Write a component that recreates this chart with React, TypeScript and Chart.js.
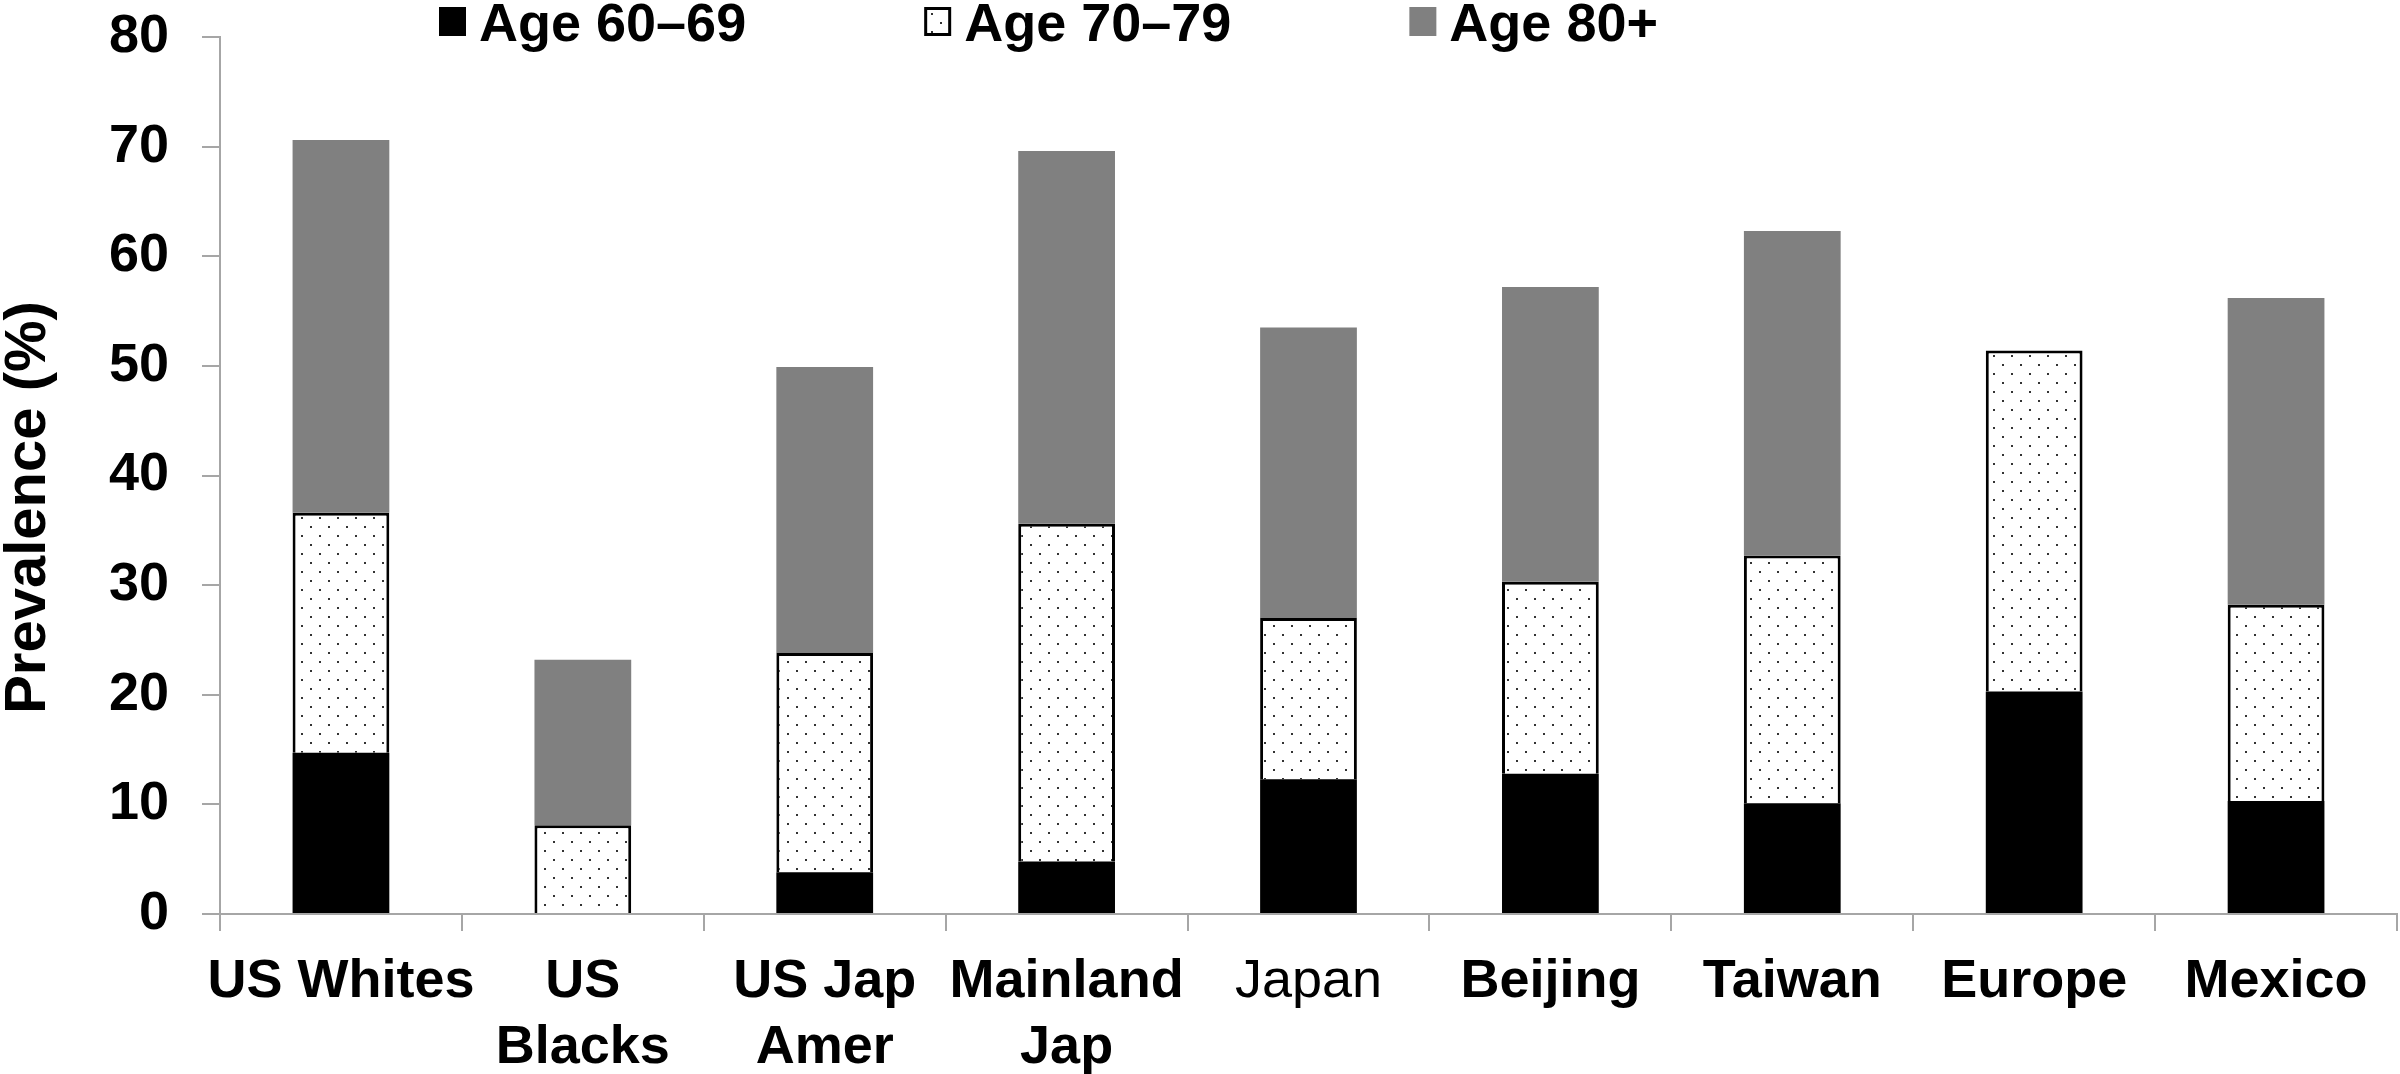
import React, { useEffect, useRef } from "react";
import { Chart, registerables } from "chart.js";

Chart.register(...registerables);

// ---- data ----
const categories: (string | string[])[] = [
  ["US Whites"],
  ["US", "Blacks"],
  ["US Jap", "Amer"],
  ["Mainland", "Jap"],
  "Japan",
  "Beijing",
  "Taiwan",
  "Europe",
  "Mexico",
];
const seriesLabels = ["Age 60–69", "Age 70–79", "Age 80+"];
const age6069 = [14.7, 0, 3.8, 4.8, 12.3, 12.8, 10.1, 20.3, 10.3];
const age7079 = [21.9, 8.1, 20.0, 30.8, 14.7, 17.5, 22.6, 31.1, 17.9];
const age80plus: (number | null)[] = [34.0, 15.1, 26.1, 34.0, 26.5, 26.9, 29.6, null, 28.0];
const yMin = 0;
const yMax = 80;
const yStep = 10;
const yTitle = "Prevalence (%)";

const FAMILY = '"Liberation Sans", Arial, Helvetica, sans-serif';
const FONT_SIZE = 54;
const AXIS_GRAY = "#a6a6a6";

function makeDots(): CanvasPattern | string {
  const c = document.createElement("canvas");
  c.width = 18;
  c.height = 18;
  const g = c.getContext("2d");
  if (!g) return "#fff";
  g.fillStyle = "#ffffff";
  g.fillRect(0, 0, 18, 18);
  g.fillStyle = "#333333";
  g.fillRect(4, 4, 2, 2);
  g.fillRect(13, 13, 2, 2);
  return g.createPattern(c, "repeat") || "#fff";
}

const legendAndTitle = {
  id: "legendAndTitle",
  afterDraw(chart: any) {
    const ctx: CanvasRenderingContext2D = chart.ctx;
    ctx.save();
    ctx.font = `bold ${FONT_SIZE}px ${FAMILY}`;
    let x = 439;
    const y = 7;
    const w = 27;
    const h = 29;
    chart.data.datasets.forEach((ds: any) => {
      ctx.fillStyle = ds.backgroundColor;
      ctx.fillRect(x, y, w, h);
      if (ds.borderWidth) {
        ctx.lineWidth = 3;
        ctx.strokeStyle = "#000";
        ctx.strokeRect(x + 1.5, y + 1.5, w - 3, h - 3);
      }
      ctx.fillStyle = "#000";
      ctx.textBaseline = "alphabetic";
      ctx.textAlign = "left";
      ctx.fillText(ds.label, x + w + 13, 41);
      x += w + 13 + ctx.measureText(ds.label).width + 178;
    });
    const ca = chart.chartArea;
    ctx.font = `bold 58px ${FAMILY}`;
    ctx.translate(29, (ca.top + ca.bottom) / 2 + 32);
    ctx.rotate(-Math.PI / 2);
    ctx.textAlign = "center";
    ctx.textBaseline = "middle";
    ctx.fillStyle = "#000";
    ctx.fillText(yTitle, 0, 0);
    ctx.restore();
  },
};

export default function App() {
  const ref = useRef<HTMLCanvasElement | null>(null);

  useEffect(() => {
    if (!ref.current) return;
    const dots = makeDots();
    const chart = new Chart(ref.current, {
      type: "bar",
      data: {
        labels: categories as any,
        datasets: [
          {
            label: seriesLabels[0],
            data: age6069,
            backgroundColor: "#000000",
            borderWidth: 0,
          },
          {
            label: seriesLabels[1],
            data: age7079,
            backgroundColor: dots as any,
            borderColor: "#000000",
            borderWidth: 3,
          },
          {
            label: seriesLabels[2],
            data: age80plus,
            backgroundColor: "#808080",
            borderWidth: 0,
          },
        ],
      },
      options: {
        animation: false,
        responsive: true,
        maintainAspectRatio: false,
        devicePixelRatio: 1,
        layout: { padding: { top: 37, right: 3, left: 0, bottom: 0 } },
        datasets: {
          bar: { barPercentage: 0.4, categoryPercentage: 1 },
        },
        plugins: {
          legend: { display: false },
          tooltip: { enabled: false },
          title: { display: false },
        },
        scales: {
          x: {
            stacked: true,
            grid: {
              offset: true,
              drawOnChartArea: false,
              drawTicks: true,
              tickLength: 17,
              color: AXIS_GRAY,
              lineWidth: 2,
            },
            border: { display: true, color: AXIS_GRAY, width: 2 },
            ticks: {
              color: "#000",
              padding: 18,
              maxRotation: 0,
              autoSkip: false,
              font: (c: any) => ({
                family: FAMILY,
                size: FONT_SIZE,
                weight: c.index === 4 ? "normal" : "bold",
                lineHeight: 1.22,
              }),
            },
            afterFit: (s: any) => {
              s.height = 160;
            },
          },
          y: {
            stacked: true,
            min: yMin,
            max: yMax,
            grid: {
              drawOnChartArea: false,
              drawTicks: true,
              tickLength: 18,
              color: AXIS_GRAY,
              lineWidth: 2,
            },
            border: { display: true, color: AXIS_GRAY, width: 2 },
            ticks: {
              stepSize: yStep,
              color: "#000",
              padding: 33,
              font: { family: FAMILY, size: FONT_SIZE, weight: "bold" },
            },
            afterFit: (s: any) => {
              s.width = 220;
              s.paddingTop = 0;
              s.paddingBottom = 0;
            },
          },
        },
      },
      plugins: [legendAndTitle],
    });
    return () => chart.destroy();
  }, []);

  return (
    <div style={{ position: "fixed", left: 0, top: 0, width: 2400, height: 1074, background: "#fff" }}>
      <canvas ref={ref} />
    </div>
  );
}
